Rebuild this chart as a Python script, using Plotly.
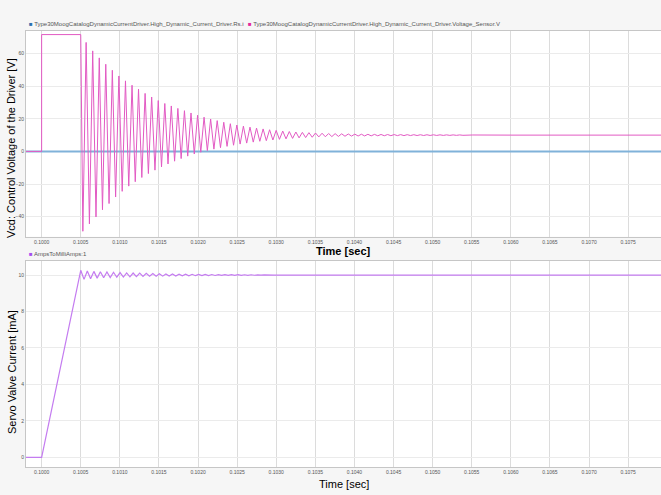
import plotly.graph_objects as go

# ---------------- data ----------------
# Voltage sensor (V): step, then decaying oscillation (extreme points)
v_step_t = [0.09980, 0.10000, 0.10000, 0.10050]
v_step_v = [0.0, 0.0, 71.7, 71.7]

v_trough_t = [0.100527, 0.100611, 0.100695, 0.100778, 0.100862, 0.100946, 0.101030, 0.101114, 0.101197, 0.101281, 0.101365, 0.101449,
              0.101533, 0.101616, 0.101700, 0.101784, 0.101868, 0.101952, 0.102035, 0.102119, 0.102203, 0.102287, 0.102371, 0.102454,
              0.102538, 0.102622, 0.102706, 0.102790, 0.102873, 0.102957, 0.103041, 0.103125, 0.103209, 0.103292, 0.103376, 0.103460,
              0.103544, 0.103628, 0.103711, 0.103795, 0.103879, 0.103963, 0.104047, 0.104130, 0.104214, 0.104298, 0.104382, 0.104466,
              0.104549, 0.104633, 0.104717, 0.104801, 0.104885, 0.104968, 0.105052, 0.105136, 0.105220, 0.105304, 0.105387, 0.105471]
v_trough_v = [-49.0, -44.5, -40.2, -35.8, -32.0, -28.0, -24.5, -21.3, -18.6, -16.0, -13.6, -11.5,
              -9.5, -7.7, -6.0, -4.4, -2.9, -1.6, -0.5, 0.5, 1.4, 2.3, 3.1, 3.8,
              4.5, 5.1, 5.7, 6.2, 6.6, 7.0, 7.4, 7.7, 8.0, 8.3, 8.5, 8.7,
              8.9, 9.0, 9.1, 9.2, 9.3, 9.4, 9.45, 9.5, 9.55, 9.6, 9.62, 9.65,
              9.68, 9.7, 9.72, 9.74, 9.76, 9.78, 9.8, 9.82, 9.84, 9.86, 9.88, 9.9]

v_peak_t = [0.100569, 0.100653, 0.100737, 0.100820, 0.100904, 0.100988, 0.101072, 0.101156, 0.101239, 0.101323, 0.101407, 0.101491,
            0.101575, 0.101658, 0.101742, 0.101826, 0.101910, 0.101994, 0.102077, 0.102161, 0.102245, 0.102329, 0.102413, 0.102496,
            0.102580, 0.102664, 0.102748, 0.102832, 0.102915, 0.102999, 0.103083, 0.103167, 0.103251, 0.103334, 0.103418, 0.103502,
            0.103586, 0.103670, 0.103753, 0.103837, 0.103921, 0.104005, 0.104089, 0.104172, 0.104256, 0.104340, 0.104424, 0.104508,
            0.104591, 0.104675, 0.104759, 0.104843, 0.104927, 0.105010, 0.105094, 0.105178, 0.105262, 0.105346, 0.105429, 0.105513]
v_peak_v = [66.9, 61.7, 57.4, 53.5, 49.8, 46.3, 43.3, 40.6, 38.2, 35.6, 33.4, 31.2,
            29.4, 27.9, 26.4, 25.0, 23.6, 22.2, 21.0, 19.9, 18.9, 17.9, 17.0, 16.2,
            15.5, 14.9, 14.3, 13.8, 13.3, 12.9, 12.5, 12.2, 11.9, 11.7, 11.5, 11.3,
            11.15, 11.0, 10.9, 10.8, 10.7, 10.62, 10.55, 10.5, 10.45, 10.4, 10.37, 10.34,
            10.31, 10.28, 10.26, 10.24, 10.22, 10.2, 10.18, 10.16, 10.14, 10.12, 10.1, 10.08]

v_tail_t = [0.10600, 0.10800]
v_tail_v = [10.0, 10.0]

# Rs current (A) - essentially zero on the voltage scale
rs_t = [0.09980, 0.10000, 0.10050, 0.10800]
rs_v = [0.0, 0.0, 0.0103, 0.0100]

# Servo valve current (mA)
i_ramp_t = [0.09980, 0.10000]
i_ramp_v = [0.0, 0.0]
i_peak_t = [0.100500, 0.100584, 0.100668, 0.100751, 0.100835, 0.100919, 0.101003, 0.101087, 0.101170, 0.101254,
            0.101338, 0.101422, 0.101506, 0.101589, 0.101673, 0.101757, 0.101841, 0.101925, 0.102008, 0.102092,
            0.102176, 0.102260, 0.102344, 0.102427, 0.102511, 0.102595, 0.102679, 0.102763, 0.102846, 0.102930]
i_peak_v = [10.26, 10.22, 10.2, 10.18, 10.165, 10.15, 10.135, 10.12, 10.11, 10.1,
            10.09, 10.08, 10.07, 10.062, 10.055, 10.05, 10.045, 10.04, 10.036, 10.032,
            10.028, 10.025, 10.022, 10.02, 10.018, 10.016, 10.014, 10.012, 10.011, 10.01]
i_trough_t = [0.100542, 0.100626, 0.100710, 0.100793, 0.100877, 0.100961, 0.101045, 0.101129, 0.101212, 0.101296,
              0.101380, 0.101464, 0.101548, 0.101631, 0.101715, 0.101799, 0.101883, 0.101967, 0.102050, 0.102134,
              0.102218, 0.102302, 0.102386, 0.102469, 0.102553, 0.102637, 0.102721, 0.102805, 0.102888, 0.102972]
i_trough_v = [9.76, 9.8, 9.83, 9.85, 9.865, 9.88, 9.89, 9.9, 9.91, 9.92,
              9.93, 9.935, 9.94, 9.945, 9.95, 9.955, 9.96, 9.964, 9.968, 9.972,
              9.975, 9.978, 9.98, 9.982, 9.984, 9.986, 9.988, 9.99, 9.991, 9.992]
i_tail_t = [0.10800]
i_tail_v = [10.0]

x_ticks = [0.1000, 0.1005, 0.1010, 0.1015, 0.1020, 0.1025, 0.1030, 0.1035,
           0.1040, 0.1045, 0.1050, 0.1055, 0.1060, 0.1065, 0.1070, 0.1075]
x_ticktext = ["0.1000", "0.1005", "0.1010", "0.1015", "0.1020", "0.1025", "0.1030", "0.1035",
              "0.1040", "0.1045", "0.1050", "0.1055", "0.1060", "0.1065", "0.1070", "0.1075"]

name_rs = "Type30MoogCatalogDynamicCurrentDriver.High_Dynamic_Current_Driver.Rs.i"
name_v = "Type30MoogCatalogDynamicCurrentDriver.High_Dynamic_Current_Driver.Voltage_Sensor.V"
name_i = "AmpsToMilliAmps:1"

# ---------------- build series ----------------
v_ext = sorted(zip(v_trough_t + v_peak_t, v_trough_v + v_peak_v))
v_x = v_step_t + [p[0] for p in v_ext] + v_tail_t
v_y = v_step_v + [p[1] for p in v_ext] + v_tail_v

i_ext = sorted(zip(i_peak_t + i_trough_t, i_peak_v + i_trough_v))
i_x = i_ramp_t + [p[0] for p in i_ext] + i_tail_t
i_y = i_ramp_v + [p[1] for p in i_ext] + i_tail_v

FONT = "Liberation Sans, Arial, sans-serif"

fig = go.Figure()
fig.add_trace(go.Scatter(x=rs_t, y=rs_v, mode="lines", name=name_rs,
                         line=dict(color="#80b2d9", width=2), xaxis="x", yaxis="y"))
fig.add_trace(go.Scatter(x=v_x, y=v_y, mode="lines", name=name_v,
                         line=dict(color="#e25ac3", width=1), xaxis="x", yaxis="y"))
fig.add_trace(go.Scatter(x=i_x, y=i_y, mode="lines", name=name_i,
                         line=dict(color="#c47cf0", width=1.2), xaxis="x2", yaxis="y2"))

xcommon = dict(range=[0.09980, 0.10792], tickvals=x_ticks, ticktext=x_ticktext,
               tickfont=dict(size=5, color="#555555", family=FONT),
               showgrid=True, gridcolor="#dcdcdc", gridwidth=1,
               showline=True, linecolor="#c6c6c6", linewidth=1, mirror=True,
               zeroline=False, ticks="")
ycommon = dict(tickfont=dict(size=5, color="#555555", family=FONT),
               showgrid=True, gridcolor="#ebebeb", gridwidth=1,
               showline=True, linecolor="#c6c6c6", linewidth=1, mirror=True,
               zeroline=False, ticks="")

fig.update_layout(
    width=661, height=495,
    margin=dict(l=26, r=0, t=31, b=28),
    paper_bgcolor="#f6f6f6", plot_bgcolor="#ffffff",
    showlegend=False,
    font=dict(family=FONT, color="#000000"),
    xaxis=dict(domain=[0, 1], anchor="y", **xcommon),
    yaxis=dict(domain=[0.528, 1], anchor="x", range=[-52.4, 73.9],
               tickvals=[-40, -20, 0, 20, 40, 60], **ycommon),
    xaxis2=dict(domain=[0, 1], anchor="y2", **xcommon),
    yaxis2=dict(domain=[0, 0.4725], anchor="x2", range=[-0.53, 10.77],
                tickvals=[0, 2, 4, 6, 8, 10], **ycommon),
)

H_TOP, H_BOT = 31, 467  # plot area pixel extents (for placing texts)
def py(pix):
    return (H_BOT - pix) / (H_BOT - H_TOP)
def px(pix):
    return (pix - 26) / 635.0

ann = []
# y-axis titles
ann.append(dict(text="Vcd: Control Voltage of the Driver [V]", x=px(11), y=py(148),
                xref="paper", yref="paper", textangle=-90, showarrow=False,
                xanchor="center", yanchor="middle", font=dict(size=11, color="#000")))
ann.append(dict(text="Servo Valve Current [mA]", x=px(12), y=py(372),
                xref="paper", yref="paper", textangle=-90, showarrow=False,
                xanchor="center", yanchor="middle", font=dict(size=11, color="#000")))
# x-axis titles
ann.append(dict(text="<b>Time [sec]</b>", x=0.5, y=py(251), xref="paper", yref="paper",
                showarrow=False, xanchor="center", yanchor="middle", font=dict(size=11, color="#000")))
ann.append(dict(text="Time [sec]", x=0.5, y=py(484), xref="paper", yref="paper",
                showarrow=False, xanchor="center", yanchor="middle", font=dict(size=11, color="#000")))
# legends
ann.append(dict(text="<span style='color:#2a6fb0'>■</span> " + name_rs, x=px(27), y=py(23.5),
                xref="paper", yref="paper", showarrow=False, xanchor="left", yanchor="middle",
                font=dict(size=6, color="#555555")))
ann.append(dict(text="<span style='color:#e3289c'>■</span> " + name_v, x=px(246), y=py(23.5),
                xref="paper", yref="paper", showarrow=False, xanchor="left", yanchor="middle",
                font=dict(size=6, color="#555555")))
ann.append(dict(text="<span style='color:#a64ff0'>■</span> " + name_i, x=px(27), y=py(254),
                xref="paper", yref="paper", showarrow=False, xanchor="left", yanchor="middle",
                font=dict(size=6, color="#555555")))
fig.update_layout(annotations=ann)

fig.write_html("out.html",
               config={"displayModeBar": False},
               post_script="document.body.style.margin='0px';document.body.style.overflow='hidden';"
                           "document.body.style.background='#f6f6f6';")
